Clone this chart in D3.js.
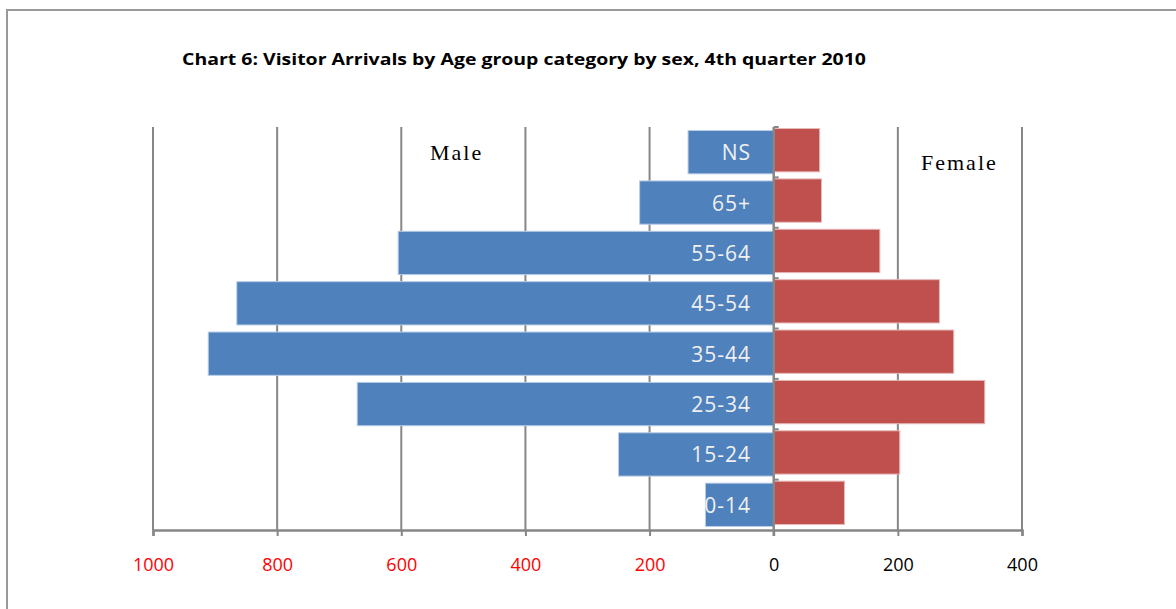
<!DOCTYPE html>
<html>
<head>
<meta charset="utf-8">
<script src="https://cdn.jsdelivr.net/npm/d3@7"></script>
<style>
  body { margin: 0; background: #fff; }
  svg { display: block; }
</style>
</head>
<body>
<div id="chart"></div>
<script>
// chart data
let ageGroups = ["NS", "65+", "55-64", "45-54", "35-44", "25-34", "15-24", "0-14"];
let maleValues = [138, 216, 605, 865, 911, 671, 250, 110];
let femaleValues = [74, 77, 171, 267, 290, 340, 203, 114];
let tickValues = [-1000, -800, -600, -400, -200, 0, 200, 400];

let width = 1176, height = 609;
let plotTop = 127, plotBottom = 530;

let svg = d3.select("#chart")
    .append("svg")
    .attr("width", width)
    .attr("height", height);

// outer frame
svg.append("rect")
    .attr("x", 7).attr("y", 10)
    .attr("width", 1200).attr("height", 700)
    .attr("fill", "white")
    .attr("stroke", "#999")
    .attr("stroke-width", 2);

// title
svg.append("text")
    .attr("x", 182).attr("y", 65)
    .attr("font-family", "'Open Sans', 'Noto Sans', sans-serif")
    .attr("font-weight", "bold")
    .attr("font-size", 16)
    .attr("textLength", 684)
    .attr("lengthAdjust", "spacingAndGlyphs")
    .attr("fill", "#000")
    .text("Chart 6: Visitor Arrivals by Age group category by sex, 4th quarter 2010");

let x = d3.scaleLinear()
    .domain([-1000, 400])
    .range([153, 1022]);

let y = d3.scaleBand()
    .domain(ageGroups)
    .range([plotTop, plotBottom])
    .paddingInner(0.14)
    .paddingOuter(0.07);

// gridlines
svg.append("g")
    .selectAll("line")
    .data(tickValues.filter(d => d !== 0))
    .enter()
    .append("line")
    .attr("x1", d => x(d)).attr("x2", d => x(d))
    .attr("y1", plotTop).attr("y2", plotBottom)
    .attr("stroke", "#878787")
    .attr("stroke-width", 2);

// bottom axis
let xAxis = svg.append("g")
    .attr("transform", "translate(0," + plotBottom + ")")
    .call(d3.axisBottom(x)
        .tickValues(tickValues)
        .tickSize(6)
        .tickPadding(22)
        .tickFormat(d => Math.abs(d)));

xAxis.select(".domain")
    .attr("stroke", "#878787")
    .attr("stroke-width", 2.5);
xAxis.selectAll(".tick line")
    .attr("stroke", "#878787")
    .attr("stroke-width", 2);
xAxis.selectAll(".tick text")
    .attr("font-family", "'Open Sans', 'Noto Sans', sans-serif")
    .attr("font-size", 18)
    .attr("fill", d => d < 0 ? "#ff0000" : "#000");

// male bars
svg.append("g")
    .selectAll("rect")
    .data(ageGroups)
    .enter()
    .append("rect")
    .attr("x", (d, i) => x(-maleValues[i]))
    .attr("y", d => y(d))
    .attr("width", (d, i) => x(0) - x(-maleValues[i]))
    .attr("height", y.bandwidth())
    .attr("fill", "#4f81bd")
    .attr("stroke", "#b9cde5")
    .attr("stroke-width", 1);

// female bars
svg.append("g")
    .selectAll("rect")
    .data(ageGroups)
    .enter()
    .append("rect")
    .attr("x", x(0))
    .attr("y", d => y(d) - 2)
    .attr("width", (d, i) => x(femaleValues[i]) - x(0))
    .attr("height", y.bandwidth())
    .attr("fill", "#c0504d")
    .attr("stroke", "#e6b9b8")
    .attr("stroke-width", 1);

// zero axis with small ticks at band edges
let zeroAxis = svg.append("g")
    .attr("transform", "translate(" + x(0) + ",0)");
zeroAxis.append("line")
    .attr("x1", 0).attr("x2", 0)
    .attr("y1", plotTop).attr("y2", plotBottom + 6)
    .attr("stroke", "#878787")
    .attr("stroke-width", 2.5);
zeroAxis.selectAll(".edge")
    .data(d3.range(ageGroups.length))
    .enter()
    .append("line")
    .attr("x1", 0).attr("x2", 5)
    .attr("y1", i => plotTop + i * y.step())
    .attr("y2", i => plotTop + i * y.step())
    .attr("stroke", "#878787")
    .attr("stroke-width", 2);

// category labels on male bars
svg.append("g")
    .selectAll("text")
    .data(ageGroups)
    .enter()
    .append("text")
    .attr("x", 751)
    .attr("y", d => y(d) + y.bandwidth() / 2 + 8)
    .attr("text-anchor", "end")
    .attr("font-family", "'Open Sans', 'Noto Sans', sans-serif")
    .attr("font-size", 21)
    .attr("letter-spacing", 1)
    .attr("fill", "#f0f0f0")
    .text(d => d);

// series labels
svg.append("text")
    .attr("x", 430).attr("y", 160)
    .attr("font-family", "'Liberation Serif', 'DejaVu Serif', serif")
    .attr("font-size", 22)
    .attr("letter-spacing", 2)
    .attr("fill", "#000")
    .text("Male");

svg.append("text")
    .attr("x", 921).attr("y", 170)
    .attr("font-family", "'Liberation Serif', 'DejaVu Serif', serif")
    .attr("font-size", 22)
    .attr("letter-spacing", 2)
    .attr("fill", "#000")
    .text("Female");
</script>
</body>
</html>
